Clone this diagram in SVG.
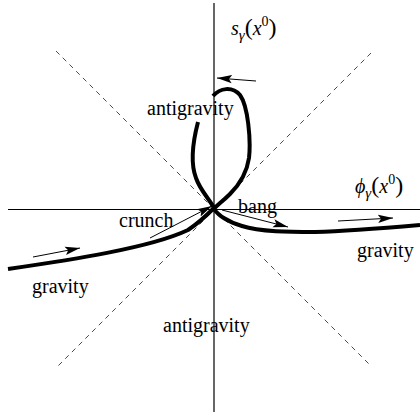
<svg xmlns="http://www.w3.org/2000/svg" width="420" height="414" viewBox="0 0 420 414">
<style>
.axis{stroke:#000;stroke-width:1.2;fill:none}
.diag{stroke:#3a3acc;stroke-width:1;stroke-dasharray:5 4.5;fill:none}
.curve{stroke:#000;stroke-width:4;fill:none;stroke-linecap:butt;stroke-linejoin:round}
.arr{stroke:#000;stroke-width:1;fill:none;marker-end:url(#ah)}
</style>
<defs>
<marker id="ah" markerUnits="userSpaceOnUse" markerWidth="16" markerHeight="10" refX="15" refY="5" orient="auto">
<path d="M0,0.8 L15,5 L0,9.2 L3,5 Z" fill="#000"/>
</marker>
</defs>
<g id="axes">
<line class="axis" x1="214" y1="3" x2="214" y2="412"/>
<line class="axis" x1="8" y1="209.5" x2="420" y2="209.5"/>
<line class="diag" x1="56" y1="51" x2="371" y2="366"/>
<line class="diag" x1="371" y1="53" x2="56" y2="368"/>
</g>
<g id="trajectory">
<path class="curve" d="M8,269 C70,260 150,248 188,230 C200,222 208,214 214,208 C210,200 200,190 196,178 C191,165 192,145 198,122"/>
<path class="curve" d="M213,96 C220,88 232,86 240,95 C248,106 251,140 249,158 C247,172 240,184 230,194 C222,202 216,206 214,209 C218,215 228,222 242,226 C260,232 290,232 315,232 C350,231 385,228 420,225"/>
</g>
<g id="arrows">
<line class="arr" x1="256" y1="81" x2="217" y2="78"/>
<line class="arr" x1="150" y1="238" x2="212" y2="206"/>
<line class="arr" x1="222" y1="210" x2="288" y2="227"/>
<line class="arr" x1="33" y1="257" x2="80" y2="248"/>
<line class="arr" x1="338" y1="221" x2="393" y2="218"/>
</g>
<g id="labels" font-family="'Liberation Serif', 'Times New Roman', 'DejaVu Serif', serif" font-size="20" fill="#000">
<text x="147" y="115">antigravity</text>
<text x="163" y="332">antigravity</text>
<text x="119" y="227">crunch</text>
<text x="238" y="213">bang</text>
<text x="32" y="293">gravity</text>
<text x="357" y="257">gravity</text>
<text x="231" y="35" font-style="italic">s<tspan font-size="15" dy="5">γ</tspan><tspan font-style="normal" font-size="24" dy="-5">(</tspan>x<tspan font-style="normal" font-size="14" dy="-9">0</tspan><tspan font-style="normal" font-size="24" dy="9">)</tspan></text>
<text x="355" y="193" font-style="italic">ϕ<tspan font-size="15" dy="5">γ</tspan><tspan font-style="normal" font-size="24" dy="-5">(</tspan>x<tspan font-style="normal" font-size="14" dy="-9">0</tspan><tspan font-style="normal" font-size="24" dy="9">)</tspan></text>
</g>
</svg>
